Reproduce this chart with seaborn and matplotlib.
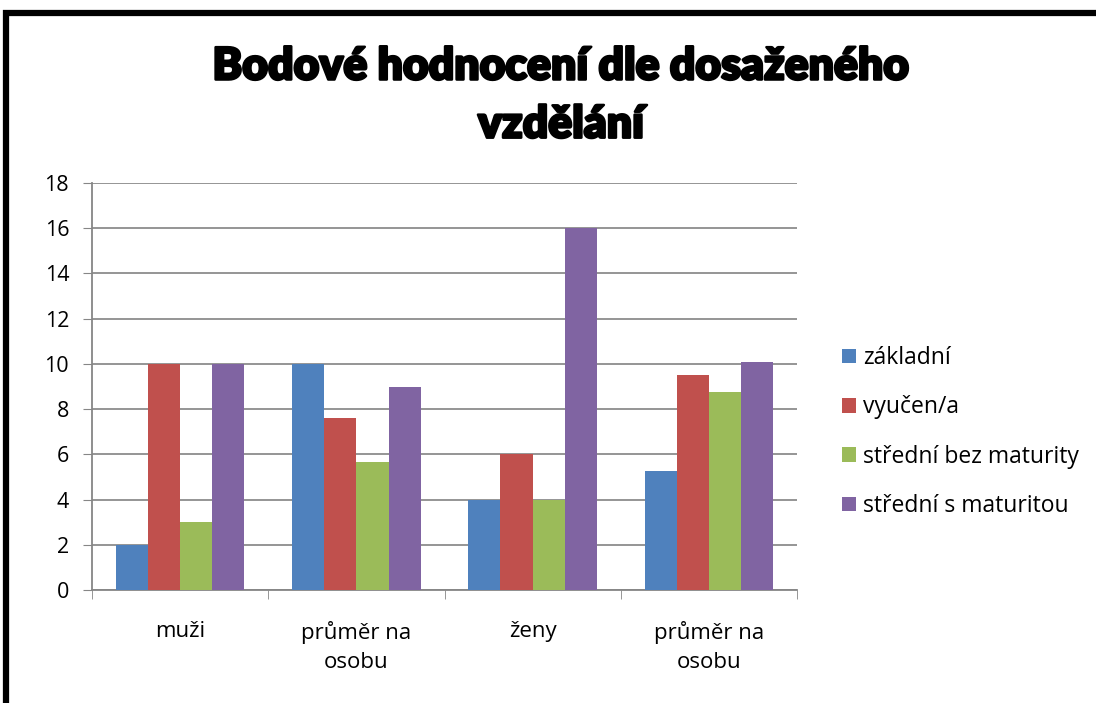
import pandas as pd
import matplotlib
matplotlib.use("Agg")
import matplotlib.pyplot as plt
import matplotlib.patheffects as pe
from matplotlib.patches import Rectangle
import seaborn as sns

# Data
groups = ["muži", "průměr na osobu (muži)", "ženy", "průměr na osobu (ženy)"]
group_labels = ["muži", "průměr na\nosobu", "ženy", "průměr na\nosobu"]
series = ["základní", "vyučen/a", "střední bez maturity", "střední s maturitou"]
zakladni = [2, 10, 4, 5.25]
vyucen = [10, 7.6, 6, 9.5]
bez_maturity = [3, 5.67, 4, 8.75]
s_maturitou = [10, 9, 16, 10.1]
colors = ["#4F81BD", "#C0504D", "#9BBB59", "#8064A2"]

rows = []
for name, vals in zip(series, [zakladni, vyucen, bez_maturity, s_maturitou]):
    for g, v in zip(groups, vals):
        rows.append({"skupina": g, "vzdělání": name, "body": v})
df = pd.DataFrame(rows)

sns.set_style("white")
plt.rcParams["font.family"] = ["Open Sans", "DejaVu Sans"]
plt.rcParams["text.color"] = "black"

fig = plt.figure(figsize=(10.96, 7.03), dpi=100)
ax = fig.add_axes([92 / 1096, 113 / 703, 705 / 1096, 407 / 703])

sns.barplot(data=df, x="skupina", y="body", hue="vzdělání", order=groups,
            hue_order=series, palette=colors, width=0.73, saturation=1,
            ax=ax, zorder=3, linewidth=0)

ax.set_ylim(0, 18)
ax.set_xlim(-0.5, 3.5)
ax.set_yticks(range(0, 19, 2))
ax.set_xticks([0, 1, 2, 3])
ax.set_xticklabels(group_labels, fontsize=16, linespacing=1.5)
ax.tick_params(axis="y", labelsize=15.5, length=6.5, color="#868686", pad=10,
               direction="out", left=True, labelcolor="black")
ax.tick_params(axis="x", length=0, pad=22, labelcolor="black")
# category separators on the x axis
ax.set_xticks([-0.5, 0.5, 1.5, 2.5, 3.5], minor=True)
ax.tick_params(axis="x", which="minor", length=6.5, color="#868686",
               direction="out", bottom=True)
ax.set_xlabel("")
ax.set_ylabel("")
ax.yaxis.grid(True, color="#8c8c8c", linewidth=1.3, zorder=0)
ax.set_axisbelow(True)
for side in ["top", "right"]:
    ax.spines[side].set_visible(False)
for side in ["left", "bottom"]:
    ax.spines[side].set_color("#868686")
    ax.spines[side].set_linewidth(1.3)

leg = ax.legend(loc="center left", bbox_to_anchor=(1.035, 0.388), frameon=False,
                fontsize=16.5, handlelength=0.6, handleheight=0.6,
                handletextpad=0.3, labelspacing=1.1)

fig.text(0.512, 0.864, "Bodové hodnocení dle dosaženého\nvzdělání", ha="center",
         va="center", fontsize=32, fontweight="heavy", linespacing=1.55,
         color="black", family=["Lato", "DejaVu Sans"],
         path_effects=[pe.withStroke(linewidth=1.8, foreground="black")])

# thick black frame around the chart
fig.patches.append(Rectangle((6 / 1096, -0.1), 1.2, (703 - 13) / 703 + 0.1,
                             transform=fig.transFigure, fill=False,
                             edgecolor="black", linewidth=4.5))

fig.savefig("out.png", dpi=100)
